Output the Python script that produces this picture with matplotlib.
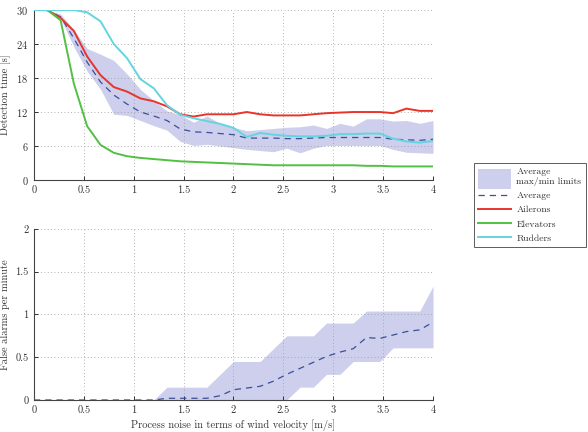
import matplotlib
matplotlib.use("Agg")
import matplotlib.pyplot as plt
from matplotlib.patches import Rectangle
from matplotlib.lines import Line2D
from matplotlib.legend_handler import HandlerPatch

plt.rcParams["font.family"] = ["cmr10", "DejaVu Serif"]
plt.rcParams["axes.formatter.use_mathtext"] = True

# wind velocity grid [m/s]
wind = [0.0, 0.133, 0.267, 0.4, 0.533, 0.667, 0.8, 0.933, 1.067, 1.2,
        1.333, 1.467, 1.6, 1.733, 1.867, 2.0, 2.133, 2.267, 2.4, 2.533,
        2.667, 2.8, 2.933, 3.067, 3.2, 3.333, 3.467, 3.6, 3.733, 3.867, 4.0]

# detection time [s]
det_avg = [30, 30, 28.8, 25.0, 20.8, 17.3, 15.0, 13.4, 12.0, 11.3,
           10.5, 9.0, 8.5, 8.4, 8.2, 8.0, 7.4, 7.4, 7.4, 7.3,
           7.3, 7.4, 7.5, 7.5, 7.5, 7.5, 7.5, 7.2, 7.1, 7.0, 7.2]
det_max = [30, 30, 29.3, 26.5, 23.2, 22.2, 21.1, 18.7, 16.0, 14.0,
           12.2, 11.5, 10.2, 11.3, 10.0, 9.3, 8.7, 8.9, 9.1, 9.3,
           9.4, 9.7, 9.1, 10.0, 9.5, 10.8, 10.8, 10.4, 10.5, 10.0, 10.5]
det_min = [30, 29.8, 28.5, 23.5, 19.2, 16.0, 11.6, 11.4, 10.5, 9.6,
           8.8, 6.8, 6.1, 6.3, 6.0, 5.7, 5.4, 5.2, 5.0, 5.6,
           4.8, 5.6, 6.1, 6.1, 6.1, 6.1, 6.1, 5.4, 4.9, 4.8, 4.7]
det_ailerons = [30, 30, 28.6, 26.3, 21.8, 18.5, 16.4, 15.6, 14.4, 13.9,
                13.0, 11.6, 11.2, 11.6, 11.6, 11.6, 12.0, 11.6, 11.4, 11.4,
                11.4, 11.6, 11.8, 11.9, 12.0, 12.0, 12.0, 11.8, 12.6, 12.2, 12.2]
det_elevators = [30, 30, 28.2, 17.0, 9.5, 6.2, 4.8, 4.2, 3.9, 3.7,
                 3.5, 3.3, 3.2, 3.1, 3.0, 2.9, 2.8, 2.7, 2.6, 2.6,
                 2.6, 2.6, 2.6, 2.6, 2.6, 2.5, 2.5, 2.4, 2.4, 2.4, 2.4]
det_rudders = [30, 30, 30, 30, 29.6, 28.0, 24.0, 21.5, 17.8, 16.2,
               13.2, 11.5, 10.9, 10.4, 9.9, 9.2, 7.6, 8.3, 8.0, 7.8,
               7.7, 7.7, 7.8, 8.1, 8.1, 8.2, 8.2, 7.3, 6.8, 6.6, 6.9]

# false alarms per minute
fa_avg = [0, 0, 0, 0, 0, 0, 0, 0, 0, 0,
          0.02, 0.02, 0.02, 0.02, 0.05, 0.12, 0.14, 0.16, 0.22, 0.30,
          0.37, 0.44, 0.51, 0.56, 0.60, 0.73, 0.72, 0.76, 0.80, 0.82, 0.91]
fa_max = [0, 0, 0, 0, 0, 0, 0, 0, 0, 0,
          0.15, 0.15, 0.15, 0.15, 0.30, 0.45, 0.45, 0.45, 0.60, 0.75,
          0.75, 0.75, 0.90, 0.90, 0.90, 1.04, 1.04, 1.04, 1.04, 1.04, 1.33]
fa_min = [0, 0, 0, 0, 0, 0, 0, 0, 0, 0,
          0, 0, 0, 0, 0, 0, 0, 0, 0, 0,
          0.15, 0.15, 0.30, 0.30, 0.45, 0.45, 0.45, 0.61, 0.61, 0.61, 0.61]

x_ticks = [0, 0.5, 1, 1.5, 2, 2.5, 3, 3.5, 4]
x_tick_labels = ["0", "0.5", "1", "1.5", "2", "2.5", "3", "3.5", "4"]
det_ticks = [0, 6, 12, 18, 24, 30]
fa_ticks = [0, 0.5, 1, 1.5, 2]
fa_tick_labels = ["0", "0.5", "1", "1.5", "2"]

BAND = "#cdcfec"
AVG = "#3c4f9c"
RED = "#e8352b"
GREEN = "#52c043"
CYAN = "#63d5de"


def _style(ax):
    for side in ("top", "right"):
        ax.spines[side].set_visible(False)
    for side in ("left", "bottom"):
        ax.spines[side].set_color("#444444")
        ax.spines[side].set_linewidth(0.8)
    ax.grid(True, linestyle=(0, (1, 3)), color="#999999", linewidth=0.6)
    ax.tick_params(direction="in", length=3, width=0.7, labelsize=7.5,
                   colors="#333333", pad=4)
    ax.set_xlim(0, 4)
    ax.set_xticks(x_ticks, x_tick_labels)


fig = plt.figure(figsize=(5.88, 4.32), dpi=100)
ax1 = fig.add_axes([0.0578, 0.5833, 0.6786, 0.3935])
ax2 = fig.add_axes([0.0578, 0.0741, 0.6786, 0.3958])

# ── top: detection time ──────────────────────────────────────────
_style(ax1)
ax1.fill_between(wind, det_min, det_max, color=BAND, linewidth=0, zorder=1)
ax1.plot(wind, det_avg, color=AVG, linewidth=0.9, dashes=(5, 4), zorder=3)
ax1.plot(wind, det_ailerons, color=RED, linewidth=1.4, zorder=4)
ax1.plot(wind, det_elevators, color=GREEN, linewidth=1.4, zorder=4)
ax1.plot(wind, det_rudders, color=CYAN, linewidth=1.4, zorder=4)
ax1.set_ylim(0, 30)
ax1.set_yticks(det_ticks)
ax1.set_ylabel("Detection time [s]", fontsize=7.5, color="#333333", labelpad=4)

# ── bottom: false alarms ─────────────────────────────────────────
_style(ax2)
ax2.fill_between(wind, fa_min, fa_max, color=BAND, linewidth=0, zorder=1)
ax2.plot(wind, fa_avg, color=AVG, linewidth=0.9, dashes=(5, 4), zorder=3)
ax2.set_ylim(0, 2)
ax2.set_yticks(fa_ticks, fa_tick_labels)
ax2.set_ylabel("False alarms per minute", fontsize=7.5, color="#333333", labelpad=4)
ax2.set_xlabel("Process noise in terms of wind velocity [m/s]", fontsize=7.5,
               color="#333333", labelpad=3)


# legend: tall swatch for the band entry
def _tall_patch(legend, orig_handle, xdescent, ydescent, width, height, fontsize):
    h = 2.1 * fontsize
    return Rectangle((-xdescent, -ydescent + height / 2 - h / 2 - 0.25 * fontsize),
                     width, h)


handles = [
    Rectangle((0, 0), 1, 1, facecolor=BAND, edgecolor="none"),
    Line2D([], [], color=AVG, linewidth=0.9, dashes=(5, 4)),
    Line2D([], [], color=RED, linewidth=1.4),
    Line2D([], [], color=GREEN, linewidth=1.4),
    Line2D([], [], color=CYAN, linewidth=1.4),
]
labels = ["Average\nmax/min limits", "Average", "Ailerons", "Elevators", "Rudders"]
leg = fig.legend(handles, labels, loc="upper left",
                 bbox_to_anchor=(474 / 588, 1 - 163 / 432),
                 fontsize=7, frameon=True, fancybox=False,
                 handlelength=3.4, handletextpad=0.5, borderpad=0.45,
                 labelspacing=0.55, borderaxespad=0,
                 handler_map={Rectangle: HandlerPatch(patch_func=_tall_patch)})
leg.get_frame().set_edgecolor("#333333")
leg.get_frame().set_linewidth(0.7)
for t in leg.get_texts():
    t.set_color("#333333")

fig.savefig("out.png", dpi=100)
